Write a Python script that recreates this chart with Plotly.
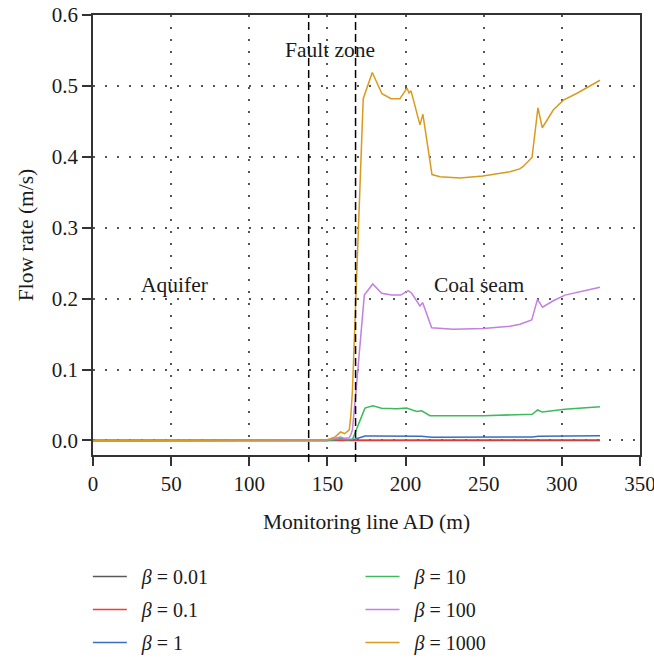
import plotly.graph_objects as go

# ---- data ----
x_b1000 = [0, 50, 100, 138, 150, 155, 158.4, 161, 164, 165, 166, 172.9, 178.7, 184.9, 190.7,
           196.4, 200.9, 202.2, 203.5, 209.2, 211.1, 216.9, 222, 234.8, 249.5, 266.8, 273,
           275.1, 280.9, 284.7, 287.5, 294.5, 301, 310, 324.4]
y_b1000 = [0, 0, 0, 0, 0.001, 0.005, 0.012, 0.0095, 0.015, 0.036, 0.07, 0.482, 0.519, 0.489,
           0.482, 0.482, 0.497, 0.490, 0.493, 0.445, 0.460, 0.375, 0.372, 0.370, 0.373, 0.379,
           0.383, 0.386, 0.399, 0.469, 0.441, 0.466, 0.480, 0.490, 0.508]

x_b100 = [0, 100, 150, 155, 158.4, 161, 164, 165, 166, 168.3, 170.8, 173.6, 179, 184.7, 191.1,
          196.9, 201.7, 203.9, 209.2, 210.9, 216.7, 230.5, 249.7, 266.8, 273.2, 280.7, 284.4,
          287.6, 294.5, 302, 324.4]
y_b100 = [0, 0, 0.0005, 0.003, 0.005, 0.003, 0.004, 0.008, 0.015, 0.07, 0.14, 0.205, 0.2207,
          0.2076, 0.2052, 0.205, 0.2113, 0.2076, 0.1897, 0.1944, 0.159, 0.157, 0.158, 0.161,
          0.164, 0.170, 0.199, 0.188, 0.197, 0.205, 0.216]

x_b10 = [0, 100, 150, 158, 163, 166.1, 174, 179, 184.7, 194.3, 200.7, 207.1, 210.3, 215.6, 222,
         250, 281, 284.5, 287.5, 302, 324.4]
y_b10 = [0, 0, 0, 0.002, 0.001, 0.002, 0.0456, 0.0489, 0.0456, 0.0446, 0.0456, 0.041, 0.0418,
         0.035, 0.035, 0.035, 0.037, 0.043, 0.040, 0.044, 0.0475]

x_b1 = [0, 150, 158, 163, 166, 168, 174, 179, 200, 210, 216.9, 250, 281, 285, 300, 324.4]
y_b1 = [0, 0, 0.002, 0.001, 0.001, 0.002, 0.0062, 0.0064, 0.0063, 0.006, 0.0046, 0.0045,
        0.0048, 0.0058, 0.0062, 0.0068]

x_b01 = [0, 166, 174, 324.4]
y_b01 = [0, 0, 0.0007, 0.0007]

x_b001 = [0, 324.4]
y_b001 = [0, 0.0001]

series_names = ["0.01", "0.1", "1", "10", "100", "1000"]
series_colors = ["#5a5a5a", "#f03a3a", "#3b6cc4", "#3dba5a", "#c47fe0", "#d99a1e"]
series_x = [x_b001, x_b01, x_b1, x_b10, x_b100, x_b1000]
series_y = [y_b001, y_b01, y_b1, y_b10, y_b100, y_b1000]
series_legend = ["legend", "legend", "legend", "legend2", "legend2", "legend2"]

fault_zone = [138, 168]
x_ticks = [0, 50, 100, 150, 200, 250, 300, 350]
y_ticks = [0.0, 0.1, 0.2, 0.3, 0.4, 0.5, 0.6]

region_labels = ["Aquifer", "Fault zone", "Coal seam"]
region_x = [52, 151.6, 247.3]
region_y = [0.219, 0.550, 0.219]

FONT = "Liberation Serif"
TXT = "#1a1a1a"

fig = go.Figure()
for nm, col, xs, ys, lg in zip(series_names, series_colors, series_x, series_y, series_legend):
    fig.add_trace(go.Scatter(x=xs, y=ys, mode="lines", name=f"\u00a0\u00a0<i>β</i> = {nm}",
                             legendgroup=nm, line=dict(color=col, width=1.5), legend=lg))

for fx in fault_zone:
    fig.add_shape(type="line", xref="x", yref="paper", x0=fx, x1=fx, y0=-0.016, y1=1,
                  line=dict(color="black", width=1.5, dash="8px,4px"))

for t, ax, ay in zip(region_labels, region_x, region_y):
    fig.add_annotation(x=ax, y=ay, xref="x", yref="y", text=t, showarrow=False,
                       font=dict(family=FONT, size=21.5, color=TXT))

axis_common = dict(showline=True, linecolor="#333", linewidth=1.5, mirror=True,
                   ticks="outside", ticklen=9, tickwidth=1.5, tickcolor="#333",
                   showgrid=True, gridcolor="#555", gridwidth=1.6, griddash="1.6px,10.4px",
                   zeroline=False, automargin=False, ticklabeloverflow="allow",
                   tickfont=dict(family=FONT, size=21, color=TXT))

fig.update_xaxes(range=[0, 350], tickvals=x_ticks, **axis_common,
                 title=dict(text="Monitoring line AD (m)", font=dict(family=FONT, size=21.5, color=TXT),
                            standoff=19))
fig.update_yaxes(range=[-0.0205, 0.6], tickvals=y_ticks, tickformat=".1f", **axis_common,
                 title=dict(text="Flow rate (m/s)", font=dict(family=FONT, size=21.5, color=TXT),
                            standoff=12))

leg_common = dict(orientation="v", xref="paper", yref="paper", xanchor="left", yanchor="top",
                  font=dict(family=FONT, size=20, color=TXT), bgcolor="rgba(0,0,0,0)",
                  itemwidth=34, tracegroupgap=4)
fig.update_layout(
    width=654, height=659,
    margin=dict(l=93, r=14, t=15, b=204, autoexpand=False),
    plot_bgcolor="white", paper_bgcolor="white",
    font=dict(family=FONT, size=20, color=TXT),
    legend=dict(x=-0.0094, y=-0.232, **leg_common),
    legend2=dict(x=0.489, y=-0.232, **leg_common),
    showlegend=True,
)

fig.write_html("out.html", config={"displayModeBar": False},
               post_script="document.body.style.margin='0';document.body.style.overflow='hidden';")
